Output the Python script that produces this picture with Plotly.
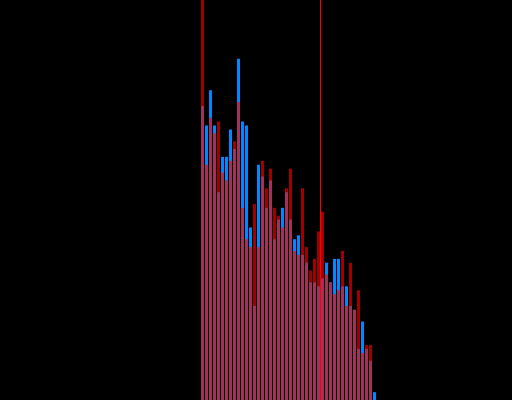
import plotly.graph_objects as go

# bin index (left edge) of each histogram bin
bins = list(range(44))

# counts per bin, series A (blue) and series B (red)
counts_a = [75, 70, 79, 70, 53, 62, 62, 69, 64, 87, 71, 70, 44, 24, 60, 57, 49, 56, 41, 46,
            49, 53, 46, 41, 42, 37, 35, 30, 30, 29, 31, 35, 30, 36, 36, 29, 29, 24, 23, 13,
            20, 13, 10, 2]
counts_b = [130, 60, 72, 68, 71, 58, 56, 61, 66, 76, 49, 41, 39, 50, 39, 61, 54, 59, 49, 47,
            44, 54, 59, 38, 37, 54, 39, 33, 36, 43, 48, 32, 30, 27, 28, 38, 24, 35, 23, 28,
            12, 14, 14, 0]

marker_value = 30  # vertical reference line
x_range = [-50.125, 77.875]
y_range = [0, 102]

centers = [b + 0.5 for b in bins]

fig = go.Figure()
fig.add_trace(go.Bar(x=centers, y=counts_a, width=0.75,
                     marker=dict(color="rgb(0,136,255)", line=dict(width=0)),
                     opacity=1.0, name="A"))
fig.add_trace(go.Bar(x=centers, y=counts_b, width=0.75,
                     marker=dict(color="rgb(255,0,0)", line=dict(width=0)),
                     opacity=0.63, name="B"))

fig.add_shape(type="line", x0=marker_value, x1=marker_value, y0=0, y1=1,
              xref="x", yref="paper", line=dict(color="rgb(255,0,0)", width=1))

fig.update_layout(
    width=512, height=400,
    margin=dict(l=0, r=0, t=0, b=0),
    paper_bgcolor="black", plot_bgcolor="black",
    barmode="overlay", showlegend=False,
    xaxis=dict(visible=False, range=x_range),
    yaxis=dict(visible=False, range=y_range),
)

fig.write_html(
    "out.html",
    config={"displayModeBar": False},
    post_script="document.body.style.margin='0';document.body.style.overflow='hidden';document.body.style.background='black';",
)
